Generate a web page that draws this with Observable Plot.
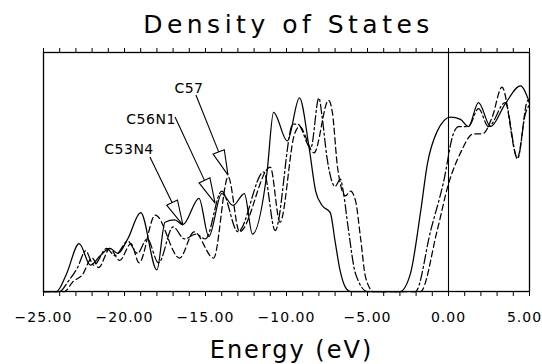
<!DOCTYPE html>
<html>
<head>
<meta charset="utf-8">
<script src="https://cdn.jsdelivr.net/npm/d3@7"></script>
<script src="https://cdn.jsdelivr.net/npm/@observablehq/plot@0.6"></script>
<style>
  html, body { margin: 0; padding: 0; background: #fff; }
  svg { display: block; }
</style>
</head>
<body>
<div id="chart"></div>
<script>
// ---- Data (energy in eV, density in relative units 0..1) ----
const seriesNames = ["C53N4", "C56N1", "C57"];

const c53n4 = [
  [-25.0, 0], [-24.2, 0], [-23.6, 0.07], [-22.8, 0.20], [-22.1, 0.11], [-21.5, 0.15],
  [-20.9, 0.18], [-20.4, 0.16], [-19.8, 0.22], [-19.0, 0.33], [-18.0, 0.09], [-17.5, 0.29],
  [-16.9, 0.30], [-16.4, 0.28], [-15.4, 0.39], [-14.8, 0.23], [-14.0, 0.41], [-13.3, 0.36],
  [-12.6, 0.41], [-12.1, 0.24], [-11.2, 0.50], [-10.8, 0.75], [-9.95, 0.63], [-9.2, 0.81],
  [-8.6, 0.60], [-8.2, 0.42], [-7.8, 0.36], [-7.3, 0.33], [-7.0, 0.21], [-6.7, 0.09],
  [-6.36, 0.017], [-6.05, 0], [-3.0, 0], [-2.35, 0.075], [-1.73, 0.33], [-1.3, 0.535],
  [-0.7, 0.67], [0.12, 0.73], [0.74, 0.72], [1.23, 0.69], [1.85, 0.79], [2.6, 0.69],
  [3.5, 0.785], [4.44, 0.86], [5.0, 0.79]
];

const c56n1 = [
  [-25.0, 0], [-24.0, 0], [-23.5, 0.04], [-22.9, 0.10], [-22.4, 0.17], [-21.9, 0.11],
  [-21.1, 0.18], [-20.6, 0.15], [-19.8, 0.21], [-19.2, 0.16], [-18.6, 0.22], [-17.9, 0.12],
  [-17.0, 0.27], [-16.3, 0.22], [-15.6, 0.24], [-15.0, 0.22], [-14.0, 0.42], [-13.0, 0.25],
  [-11.4, 0.50], [-10.7, 0.255], [-9.6, 0.70], [-9.3, 0.70], [-8.5, 0.60], [-8.0, 0.81],
  [-7.8, 0.73], [-7.5, 0.56], [-7.0, 0.44], [-6.67, 0.47], [-6.5, 0.42], [-6.2, 0.27],
  [-5.74, 0.075], [-5.0, 0], [-2.04, 0], [-1.1, 0.255], [-0.3, 0.46], [0.3, 0.66],
  [0.62, 0.69], [1.23, 0.69], [1.85, 0.765], [2.47, 0.69], [3.5, 0.79], [4.26, 0.555],
  [4.75, 0.745], [5.0, 0.78]
];

const c57 = [
  [-25.0, 0], [-23.7, 0], [-23.2, 0.04], [-22.6, 0.07], [-22.0, 0.14], [-21.6, 0.10],
  [-20.9, 0.18], [-20.3, 0.13], [-19.6, 0.20], [-19.1, 0.12], [-18.1, 0.32], [-16.6, 0.14],
  [-15.7, 0.25], [-14.5, 0.14], [-13.6, 0.48], [-12.9, 0.25], [-11.0, 0.52], [-10.4, 0.29],
  [-9.5, 0.66], [-9.2, 0.69], [-8.3, 0.58], [-7.4, 0.80], [-7.16, 0.745], [-6.85, 0.52],
  [-6.36, 0.40], [-6.05, 0.42], [-5.74, 0.38], [-5.43, 0.225], [-5.12, 0.06], [-4.63, 0],
  [-1.73, 0], [-0.7, 0.255], [0.0, 0.45], [0.74, 0.58], [1.54, 0.66], [2.1, 0.66],
  [2.7, 0.73], [3.3, 0.855], [4.26, 0.56], [4.9, 0.80], [5.0, 0.79]
];

const majorTicks = [-25, -20, -15, -10, -5, 0, 5];
const minorTicks = d3.range(-25, 6, 1);
const titleText = "Density of States";
const xLabel = "Energy (eV)";
const fermiLevel = [0];

// Annotations: label positions, arrow tails and arrow tips (data units)
const arrowLabels = ["C57", "C56N1", "C53N4"];
const labelE = [-16.02, -18.36, -19.72];
const labelV = [0.849, 0.718, 0.596];
const tailE = [-15.56, -16.85, -18.4];
const tailV = [0.820, 0.728, 0.561];
const tipE = [-13.58, -14.38, -16.36];
const tipV = [0.485, 0.368, 0.276];

// ---- Build tables ----
const styles = {
  "C53N4": {dash: null},
  "C56N1": {dash: "9,3,2,3"},
  "C57": {dash: "6,3.5"}
};
const seriesData = {"C53N4": c53n4, "C56N1": c56n1, "C57": c57};
const rows = s => seriesData[s].map(([e, v]) => ({series: s, e, v}));
const labelRows = arrowLabels.map((t, i) => ({t, e: labelE[i], v: labelV[i]}));
const arrowRows = arrowLabels.map((t, i) => ({t, e1: tailE[i], v1: tailV[i], e2: tipE[i], v2: tipV[i]}));
const fmt = d3.format(".2f");
const innerTicks = majorTicks.slice(0, -1);
const lastTick = majorTicks.slice(-1);

const font = "'DejaVu Sans', sans-serif";

function arrowheads(index, scales) {
  const g = d3.create("svg:g").attr("fill", "none").attr("stroke", "black").attr("stroke-width", 1.1);
  for (const a of arrowRows) {
    const sx = scales.x(a.e1), sy = scales.y(a.v1);
    const tx = scales.x(a.e2), ty = scales.y(a.v2);
    const dx = tx - sx, dy = ty - sy, L = Math.hypot(dx, dy);
    const ux = dx / L, uy = dy / L;
    const hl = 25, hw = 6;
    const bx = tx - hl * ux, by = ty - hl * uy;
    const nx = -uy, ny = ux;
    g.append("path").attr("d", `M${sx},${sy}L${bx},${by}`);
    g.append("path").attr("stroke-linejoin", "miter")
      .attr("d", `M${bx + hw * nx},${by + hw * ny}L${tx},${ty}L${bx - hw * nx},${by - hw * ny}Z`);
  }
  return g.node();
}

const plot = Plot.plot({
  width: 542,
  height: 364,
  marginLeft: 43,
  marginRight: 13,
  marginTop: 52,
  marginBottom: 73,
  style: {fontFamily: font, background: "white", color: "black"},
  x: {domain: [-25, 5], label: null},
  y: {domain: [0, 1], axis: null},
  marks: [
    Plot.frame({stroke: "black", strokeWidth: 1.3}),
    Plot.ruleX(fermiLevel, {stroke: "black", strokeWidth: 1.1}),
    Plot.axisX(minorTicks, {anchor: "top", tickSize: 5, tickFormat: () => "", label: null, strokeWidth: 1}),
    Plot.axisX(minorTicks, {anchor: "bottom", tickSize: 5, tickFormat: () => "", label: null, strokeWidth: 1}),
    Plot.text(innerTicks, {x: d => d, frameAnchor: "bottom", dy: 30, text: d => fmt(d),
      fontSize: 14, fill: "black", fontFamily: font}),
    Plot.text(lastTick, {x: d => d, frameAnchor: "bottom", dy: 30, dx: -5, text: d => fmt(d),
      fontSize: 14, fill: "black", fontFamily: font}),
    ...seriesNames.map(s => Plot.line(rows(s), {
      x: "e", y: "v", curve: "monotone-x", stroke: "black", strokeWidth: 1.25,
      strokeDasharray: styles[s].dash
    })),
    arrowheads,
    Plot.text(labelRows, {x: "e", y: "v", text: "t", fontSize: 14, fill: "black",
      fontFamily: font, textAnchor: "middle"}),
    Plot.text([titleText], {frameAnchor: "top", dy: -37, dx: 2, fontSize: 25, fill: "black",
      fontFamily: font}),
    Plot.text([xLabel], {frameAnchor: "bottom", dy: 66, dx: 5, fontSize: 24, fill: "black",
      fontFamily: font})
  ]
});

// letter spacing to match the wide stroke-font look of the original
const svg = d3.select(plot);
svg.selectAll("text").each(function () {
  const t = this.textContent;
  const el = d3.select(this);
  if (t === titleText) el.attr("letter-spacing", "4.5px");
  else if (t === xLabel) el.attr("letter-spacing", "2px");
  else if (/^[−\-]?\d+\.\d\d$/.test(t)) el.attr("letter-spacing", "1px");
  else if (arrowLabels.includes(t)) el.attr("letter-spacing", "0.5px");
});

document.getElementById("chart").appendChild(plot);
</script>
</body>
</html>
